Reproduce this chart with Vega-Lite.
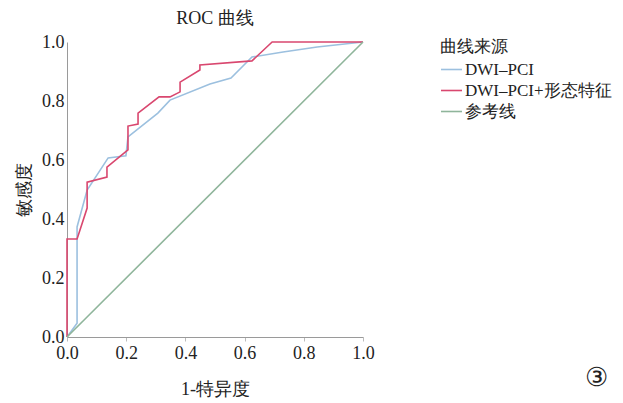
{
  "$schema": "https://vega.github.io/schema/vega-lite/v6.json",
  "autosize": "none",
  "width": 296,
  "height": 295,
  "padding": {"left": 67, "top": 42, "right": 260, "bottom": 66},
  "background": "white",
  "config": {
    "font": "Liberation Serif",
    "view": {"stroke": null},
    "axis": {"labelFont": "Liberation Serif", "titleFont": "Liberation Serif", "labelColor": "#222", "titleColor": "#222", "domainColor": "#9a9a9a", "tickColor": "#bbb", "grid": false}
  },
  "title": {"text": "ROC 曲线", "fontSize": 18, "fontWeight": "normal", "font": "Liberation Serif", "color": "#222", "offset": 5, "anchor": "middle"},
  "datasets": {
    "roc": [
      {"series": "DWI–PCI", "k": 0, "fpr": 0, "tpr": 0},
      {"series": "DWI–PCI", "k": 1, "fpr": 0.034, "tpr": 0.047},
      {"series": "DWI–PCI", "k": 2, "fpr": 0.034, "tpr": 0.373},
      {"series": "DWI–PCI", "k": 3, "fpr": 0.068, "tpr": 0.498},
      {"series": "DWI–PCI", "k": 4, "fpr": 0.139, "tpr": 0.607},
      {"series": "DWI–PCI", "k": 5, "fpr": 0.199, "tpr": 0.614},
      {"series": "DWI–PCI", "k": 6, "fpr": 0.206, "tpr": 0.678},
      {"series": "DWI–PCI", "k": 7, "fpr": 0.307, "tpr": 0.759},
      {"series": "DWI–PCI", "k": 8, "fpr": 0.348, "tpr": 0.803},
      {"series": "DWI–PCI", "k": 9, "fpr": 0.483, "tpr": 0.858},
      {"series": "DWI–PCI", "k": 10, "fpr": 0.554, "tpr": 0.878},
      {"series": "DWI–PCI", "k": 11, "fpr": 0.625, "tpr": 0.949},
      {"series": "DWI–PCI", "k": 12, "fpr": 0.73, "tpr": 0.966},
      {"series": "DWI–PCI", "k": 13, "fpr": 0.845, "tpr": 0.983},
      {"series": "DWI–PCI", "k": 14, "fpr": 1, "tpr": 1},
      {"series": "DWI–PCI+形态特征", "k": 0, "fpr": 0, "tpr": 0},
      {"series": "DWI–PCI+形态特征", "k": 1, "fpr": 0, "tpr": 0.332},
      {"series": "DWI–PCI+形态特征", "k": 2, "fpr": 0.034, "tpr": 0.332},
      {"series": "DWI–PCI+形态特征", "k": 3, "fpr": 0.068, "tpr": 0.437},
      {"series": "DWI–PCI+形态特征", "k": 4, "fpr": 0.068, "tpr": 0.525},
      {"series": "DWI–PCI+形态特征", "k": 5, "fpr": 0.135, "tpr": 0.542},
      {"series": "DWI–PCI+形态特征", "k": 6, "fpr": 0.135, "tpr": 0.576},
      {"series": "DWI–PCI+形态特征", "k": 7, "fpr": 0.206, "tpr": 0.634},
      {"series": "DWI–PCI+形态特征", "k": 8, "fpr": 0.206, "tpr": 0.715},
      {"series": "DWI–PCI+形态特征", "k": 9, "fpr": 0.24, "tpr": 0.722},
      {"series": "DWI–PCI+形态特征", "k": 10, "fpr": 0.24, "tpr": 0.759},
      {"series": "DWI–PCI+形态特征", "k": 11, "fpr": 0.311, "tpr": 0.814},
      {"series": "DWI–PCI+形态特征", "k": 12, "fpr": 0.348, "tpr": 0.814},
      {"series": "DWI–PCI+形态特征", "k": 13, "fpr": 0.382, "tpr": 0.831},
      {"series": "DWI–PCI+形态特征", "k": 14, "fpr": 0.382, "tpr": 0.864},
      {"series": "DWI–PCI+形态特征", "k": 15, "fpr": 0.449, "tpr": 0.905},
      {"series": "DWI–PCI+形态特征", "k": 16, "fpr": 0.449, "tpr": 0.922},
      {"series": "DWI–PCI+形态特征", "k": 17, "fpr": 0.625, "tpr": 0.936},
      {"series": "DWI–PCI+形态特征", "k": 18, "fpr": 0.693, "tpr": 1},
      {"series": "DWI–PCI+形态特征", "k": 19, "fpr": 1, "tpr": 1},
      {"series": "参考线", "k": 0, "fpr": 0, "tpr": 0},
      {"series": "参考线", "k": 1, "fpr": 1, "tpr": 1}
    ],
    "note": [{"label": "③", "fx": 1.79, "fy": -0.14}]
  },
  "layer": [
    {
      "data": {"name": "roc"},
      "mark": {"type": "line", "strokeWidth": 1.6, "clip": false},
      "encoding": {
        "x": {"field": "fpr", "type": "quantitative", "scale": {"domain": [0, 1], "nice": false, "zero": false},
              "axis": {"title": "1-特异度", "values": [0, 0.2, 0.4, 0.6, 0.8, 1], "format": ".1f", "labelFontSize": 18, "titleFontSize": 18, "titleFontWeight": "normal", "tickSize": 4, "labelPadding": 3, "titlePadding": 18, "labelFlush": false}},
        "y": {"field": "tpr", "type": "quantitative", "scale": {"domain": [0, 1], "nice": false, "zero": false},
              "axis": {"title": "敏感度", "values": [0, 0.2, 0.4, 0.6, 0.8, 1], "format": ".1f", "labelFontSize": 18, "titleFontSize": 18, "titleFontWeight": "normal", "tickSize": 0, "labelPadding": 3, "titlePadding": 8, "labelFlush": false}},
        "color": {"field": "series", "type": "nominal",
                  "scale": {"domain": ["DWI–PCI", "DWI–PCI+形态特征", "参考线"], "range": ["#9cc0df", "#d9476f", "#8fb59b"]},
                  "legend": {"title": "曲线来源", "orient": "none", "legendX": 373, "legendY": -3, "titleFontSize": 17, "titleFont": "Liberation Serif", "titleFontWeight": "normal", "titleColor": "#222", "titlePadding": 2, "titleAnchor": "start", "titleAlign": "left", "labelFontSize": 17, "labelFont": "Liberation Serif", "labelColor": "#222", "symbolType": "stroke", "symbolSize": 440, "symbolStrokeWidth": 1.6, "rowPadding": 1, "labelOffset": 2}},
        "order": {"field": "k", "type": "quantitative"}
      }
    },
    {
      "data": {"name": "note"},
      "mark": {"type": "text", "fontSize": 26, "font": "DejaVu Serif", "color": "#222", "clip": false},
      "encoding": {
        "x": {"field": "fx", "type": "quantitative"},
        "y": {"field": "fy", "type": "quantitative"},
        "text": {"field": "label"}
      }
    }
  ]
}
